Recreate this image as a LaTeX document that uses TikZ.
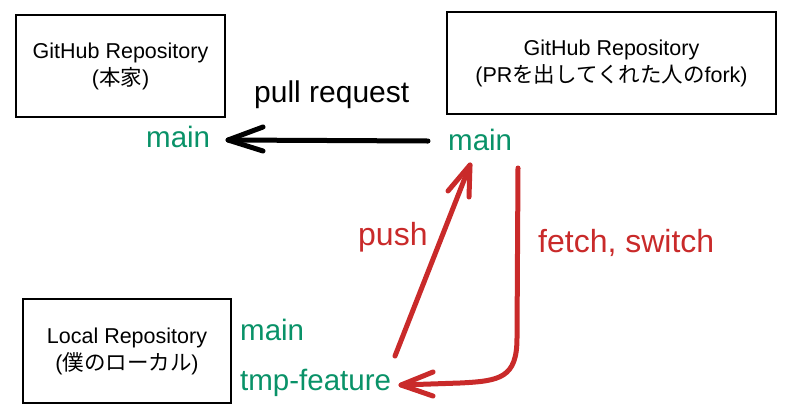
\documentclass[tikz,border=0pt]{standalone}
\usepackage{fontspec}
\setmainfont{Liberation Sans}
\newfontfamily\cjk{Noto Sans CJK JP}
\definecolor{brgreen}{HTML}{099268}
\definecolor{opred}{HTML}{C92A2A}
\tikzset{
  repobox/.style={draw=black, line width=1.3pt, align=center, inner sep=0pt,
    font=\fontsize{21.5}{27}\selectfont},
  branch/.style={text=brgreen, inner sep=0pt, anchor=base west, font=\fontsize{29.5}{31}\selectfont},
  oplabel/.style={text=opred, inner sep=0pt, anchor=base west, font=\fontsize{32}{34}\selectfont},
  prlabel/.style={text=black, inner sep=0pt, anchor=base west, font=\fontsize{30}{32}\selectfont},
  conn/.style={line width=5pt, line cap=round, line join=round},
}
\begin{document}
\begin{tikzpicture}[x=1pt,y=-1pt]
\useasboundingbox (0,0) rectangle (793,416);
% boxes
\node[repobox, minimum width=209pt, minimum height=102pt] (upstream) at (120.5,66)
  {GitHub Repository\\({\cjk 本家})};
\node[repobox, minimum width=329pt, minimum height=102pt] (fork) at (611.5,63)
  {GitHub Repository\\(PR{\cjk を出してくれた人の}fork)};
\node[repobox, minimum width=208pt, minimum height=104pt] (local) at (127,351)
  {Local Repository\\({\cjk 僕のローカル})};
% branches
\node[branch] (mainL) at (146,147) {main};
\node[branch] (mainR) at (448,150) {main};
\node[branch] (mainLocal) at (240,340) {main};
\node[branch] (tmp) at (240,390) {tmp-feature};
% labels
\node[prlabel] (prl) at (254,102) {pull request};
\node[oplabel] (pushl) at (358,245) {push};
\node[oplabel] (fetchl) at (538,252) {fetch, switch};
% connector end points
\coordinate (prFrom) at (428,141);
\coordinate (prTo) at (228,140);
\coordinate (pushFrom) at (395,356);
\coordinate (pushTo) at (470,165);
\coordinate (fetchFrom) at (518,168);
\coordinate (fetchTo) at (401,385);
% connectors
\draw[conn, black] (prFrom) -- (prTo);
\draw[conn, black] ([shift={(35,-13)}]prTo) -- (prTo) -- ([shift={(35,11)}]prTo);
\draw[conn, opred] (pushFrom) -- (pushTo);
\draw[conn, opred] ([shift={(-22,26)}]pushTo) -- (pushTo) -- ([shift={(-1,32)}]pushTo);
\draw[conn, opred] (fetchFrom) -- (517,338) .. controls (517,378) and (500,381) .. (460,383) -- (fetchTo);
\draw[conn, opred] ([shift={(32,-13)}]fetchTo) -- (fetchTo) -- ([shift={(32,11)}]fetchTo);
\end{tikzpicture}
\end{document}
